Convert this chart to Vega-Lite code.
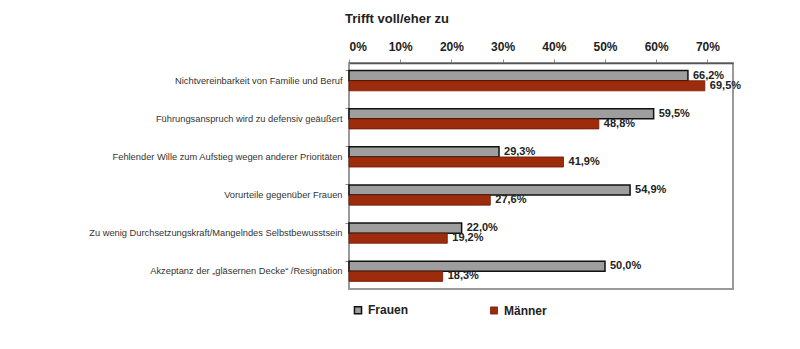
{
  "$schema": "https://vega.github.io/schema/vega-lite/v6.json",
  "width": 384,
  "height": 226,
  "autosize": {"type": "none"},
  "padding": {"left": 349, "top": 63, "right": 67, "bottom": 60},
  "background": "white",
  "title": {
    "text": "Trifft voll/eher zu",
    "anchor": "start",
    "frame": "group",
    "dx": -4,
    "offset": 14,
    "font": "Liberation Sans",
    "fontSize": 13,
    "fontWeight": "bold",
    "color": "#222222"
  },
  "config": {
    "locale": {"number": {"decimal": ",", "thousands": ".", "grouping": [3], "currency": ["", " €"]}},
    "view": {"stroke": "#9a9a9a", "strokeWidth": 2},
    "font": "Liberation Sans"
  },
  "data": {
    "values": [
      {"cat": "Nichtvereinbarkeit von Familie und Beruf", "g": "Frauen", "v": 0.662},
      {"cat": "Nichtvereinbarkeit von Familie und Beruf", "g": "Männer", "v": 0.695},
      {"cat": "Führungsanspruch wird zu defensiv geäußert", "g": "Frauen", "v": 0.595},
      {"cat": "Führungsanspruch wird zu defensiv geäußert", "g": "Männer", "v": 0.488},
      {"cat": "Fehlender Wille zum Aufstieg wegen anderer Prioritäten", "g": "Frauen", "v": 0.293},
      {"cat": "Fehlender Wille zum Aufstieg wegen anderer Prioritäten", "g": "Männer", "v": 0.419},
      {"cat": "Vorurteile gegenüber Frauen", "g": "Frauen", "v": 0.549},
      {"cat": "Vorurteile gegenüber Frauen", "g": "Männer", "v": 0.276},
      {"cat": "Zu wenig Durchsetzungskraft/Mangelndes Selbstbewusstsein", "g": "Frauen", "v": 0.220},
      {"cat": "Zu wenig Durchsetzungskraft/Mangelndes Selbstbewusstsein", "g": "Männer", "v": 0.192},
      {"cat": "Akzeptanz der „gläsernen Decke“ /Resignation", "g": "Frauen", "v": 0.500},
      {"cat": "Akzeptanz der „gläsernen Decke“ /Resignation", "g": "Männer", "v": 0.183}
    ]
  },
  "encoding": {
    "y": {
      "field": "cat",
      "type": "nominal",
      "sort": null,
      "title": null,
      "scale": {"paddingInner": 0.47},
      "axis": {
        "orient": "left",
        "domain": false,
        "bandPosition": 0,
        "tickColor": "#888888",
        "tickSize": 4,
        "labelFontSize": 9.3,
        "labelColor": "#333333",
        "labelPadding": 3,
        "labelLimit": 300
      }
    },
    "yOffset": {"field": "g", "type": "nominal", "sort": ["Frauen", "Männer"]},
    "x": {
      "field": "v",
      "type": "quantitative",
      "title": null,
      "scale": {"domain": [0, 0.75], "nice": false},
      "axis": {
        "orient": "top",
        "format": ".0%",
        "values": [0, 0.1, 0.2, 0.3, 0.4, 0.5, 0.6, 0.7],
        "grid": false,
        "domainColor": "#555555",
        "domainWidth": 1.5,
        "tickColor": "#888888",
        "tickSize": 4,
        "labelFontSize": 12,
        "labelFontWeight": "bold",
        "labelColor": "#222222",
        "labelPadding": 6
      }
    }
  },
  "layer": [
    {
      "mark": {"type": "bar", "cornerRadius": 0},
      "encoding": {
        "color": {
          "field": "g",
          "type": "nominal",
          "sort": ["Frauen", "Männer"],
          "scale": {"domain": ["Frauen", "Männer"], "range": ["#9e9e9e", "#9c2c0c"]},
          "legend": {
            "title": null,
            "orient": "none",
            "legendX": 3,
            "legendY": 241,
            "direction": "horizontal",
            "columns": 2,
            "columnPadding": 79,
            "symbolType": "square",
            "symbolSize": 50,
            "symbolStrokeWidth": 1.5,
            "labelFontSize": 12,
            "labelFontWeight": "bold",
            "labelColor": "#222222",
            "labelOffset": 4
          }
        },
        "stroke": {
          "field": "g",
          "type": "nominal",
          "scale": {"domain": ["Frauen", "Männer"], "range": ["#111111", "#6e1a05"]},
          "legend": null
        },
        "strokeWidth": {
          "field": "g",
          "type": "nominal",
          "scale": {"domain": ["Frauen", "Männer"], "range": [1.5, 0.8]},
          "legend": null
        }
      }
    },
    {
      "mark": {"type": "text", "align": "left", "baseline": "middle", "dx": 5, "fontSize": 11, "fontWeight": "bold", "color": "#222222"},
      "encoding": {
        "text": {"field": "v", "type": "quantitative", "format": ".1%"}
      }
    }
  ]
}
